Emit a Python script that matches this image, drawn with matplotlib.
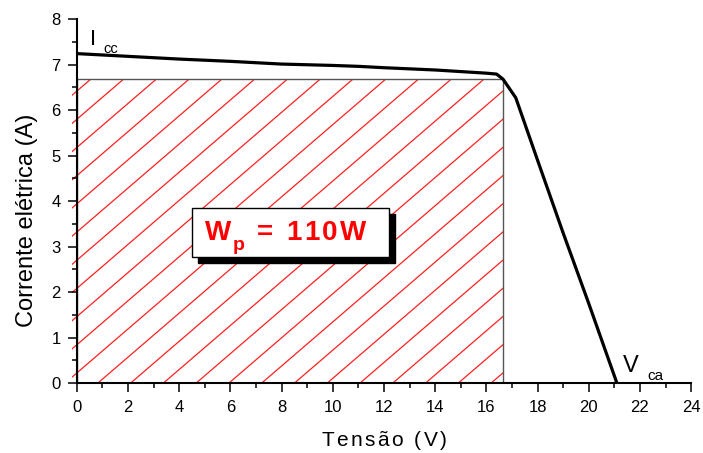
import numpy as np
import matplotlib
matplotlib.use("Agg")
import matplotlib.pyplot as plt
from matplotlib.patches import Rectangle
from matplotlib import transforms
from matplotlib.ticker import MultipleLocator
from matplotlib.font_manager import findfont, FontProperties
from matplotlib.ft2font import FT2Font

plt.rcParams['font.family'] = ['Liberation Sans', 'DejaVu Sans']

# I-V curve of the PV module
voltage = [0.0, 2.0, 4.0, 6.0, 8.0, 10.0, 11.0, 12.0, 14.0, 16.0, 16.4, 16.65, 17.15, 18.0, 19.0, 20.0, 21.1]
current = [7.24, 7.18, 7.12, 7.07, 7.01, 6.98, 6.96, 6.93, 6.88, 6.81, 6.79, 6.68, 6.27, 4.9, 3.3, 1.75, 0.0]

# maximum power point
v_mp = 16.65
i_mp = 6.68
power_label = "110W"

x_ticks = list(range(0, 25, 2))
y_ticks = list(range(0, 9))

DPI = 100
fig = plt.figure(figsize=(7.03, 4.53), dpi=DPI)
ax = fig.add_axes([0.1091, 0.1545, 0.874, 0.8035])
ax.set_xlim(0, 24)
ax.set_ylim(0, 8)


def advances(s, size, weight='normal'):
    fp = FontProperties(family='Liberation Sans', weight=weight)
    f = FT2Font(findfont(fp))
    f.set_size(size, DPI)
    return [f.load_char(ord(c)).linearHoriAdvance / 65536.0 for c in s]


def tracked_text(x, y, s, size, tracking, transform, ha='left', **kw):
    """Draw a string char by char with extra spacing (in pixels)."""
    adv = advances(s, size, kw.get('fontweight', 'normal'))
    total = sum(adv) + tracking * (len(s) - 1)
    off = -total / 2 if ha == 'center' else 0.0
    for c, a in zip(s, adv):
        if c != ' ':
            tr = transforms.offset_copy(transform, fig=fig, x=off, y=0, units='dots')
            ax.text(x, y, c, transform=tr, ha='left', va='baseline', fontsize=size,
                    clip_on=False, **kw)
        off += a + tracking


# hatched power rectangle
rect = Rectangle((0, 0), v_mp, i_mp, facecolor='none', edgecolor='#555555', lw=1.0, zorder=2)
ax.add_patch(rect)
clip = Rectangle((-0.2, 0), v_mp + 0.2, i_mp, transform=ax.transData, facecolor='none', edgecolor='none')
ax.add_patch(clip)
clip.set_visible(False)
slope = 0.484
step = 1.28
start = 0.83
for k in range(-12, 15):
    x0 = start + k * step
    xs = np.array([x0, x0 + 20])
    ys = slope * (xs - x0)
    ln, = ax.plot(xs, ys, color='#ff2020', lw=0.9, zorder=1, clip_on=True)
    ln.set_clip_path(clip)

ax.plot(voltage, current, color='black', lw=2.3, zorder=3, solid_joinstyle='round')

# annotation box with shadow
bx, by, bw, bh = 4.5, 2.77, 7.7, 1.08
shadow_tr = transforms.offset_copy(ax.transData, fig=fig, x=6, y=-6, units='dots')
ax.add_patch(Rectangle((bx, by), bw, bh, transform=shadow_tr, facecolor='black', edgecolor='black', zorder=4))
ax.add_patch(Rectangle((bx, by), bw, bh, facecolor='white', edgecolor='black', lw=1.0, zorder=5))
ax.text(5.01, 3.14, "W", color='#ff0000', fontsize=20, fontweight='bold', ha='left', va='baseline', zorder=6)
ax.text(6.1, 2.93, "p", color='#ff0000', fontsize=14, fontweight='bold', ha='left', va='baseline', zorder=6)
tracked_text(7.04, 3.14, "= " + power_label, 20, 2.5, ax.transData,
             color='#ff0000', fontweight='bold', zorder=6)

# Isc / Voc labels
ax.text(0.52, 7.44, "I", fontsize=16, ha='left', va='baseline')
ax.text(1.04, 7.25, "cc", fontsize=10.5, ha='left', va='baseline')
ax.text(21.33, 0.25, "V", fontsize=17, ha='left', va='baseline')
ax.text(22.28, 0.07, "ca", fontsize=11, ha='left', va='baseline')

for s in ['top', 'right']:
    ax.spines[s].set_visible(False)
for s in ['left', 'bottom']:
    ax.spines[s].set_linewidth(1.5)

ax.set_xticks(x_ticks)
ax.set_yticks(y_ticks)
ax.xaxis.set_minor_locator(MultipleLocator(1))
ax.yaxis.set_minor_locator(MultipleLocator(0.5))
ax.tick_params(which='major', direction='out', length=6.5, width=1.1, labelsize=12)
ax.tick_params(which='minor', direction='out', length=3.6, width=1.1)
ax.tick_params(axis='x', which='major', pad=5.5)
ax.tick_params(axis='y', which='major', pad=5)

# axis titles
tracked_text(0.5, -0.173, "Tensão (V)", 15, 2.5, ax.transAxes, ha='center')
ax.set_ylabel("Corrente elétrica (A)", fontsize=17)
ax.yaxis.set_label_coords(-0.063, 0.446)

fig.savefig("out.png", dpi=DPI)
